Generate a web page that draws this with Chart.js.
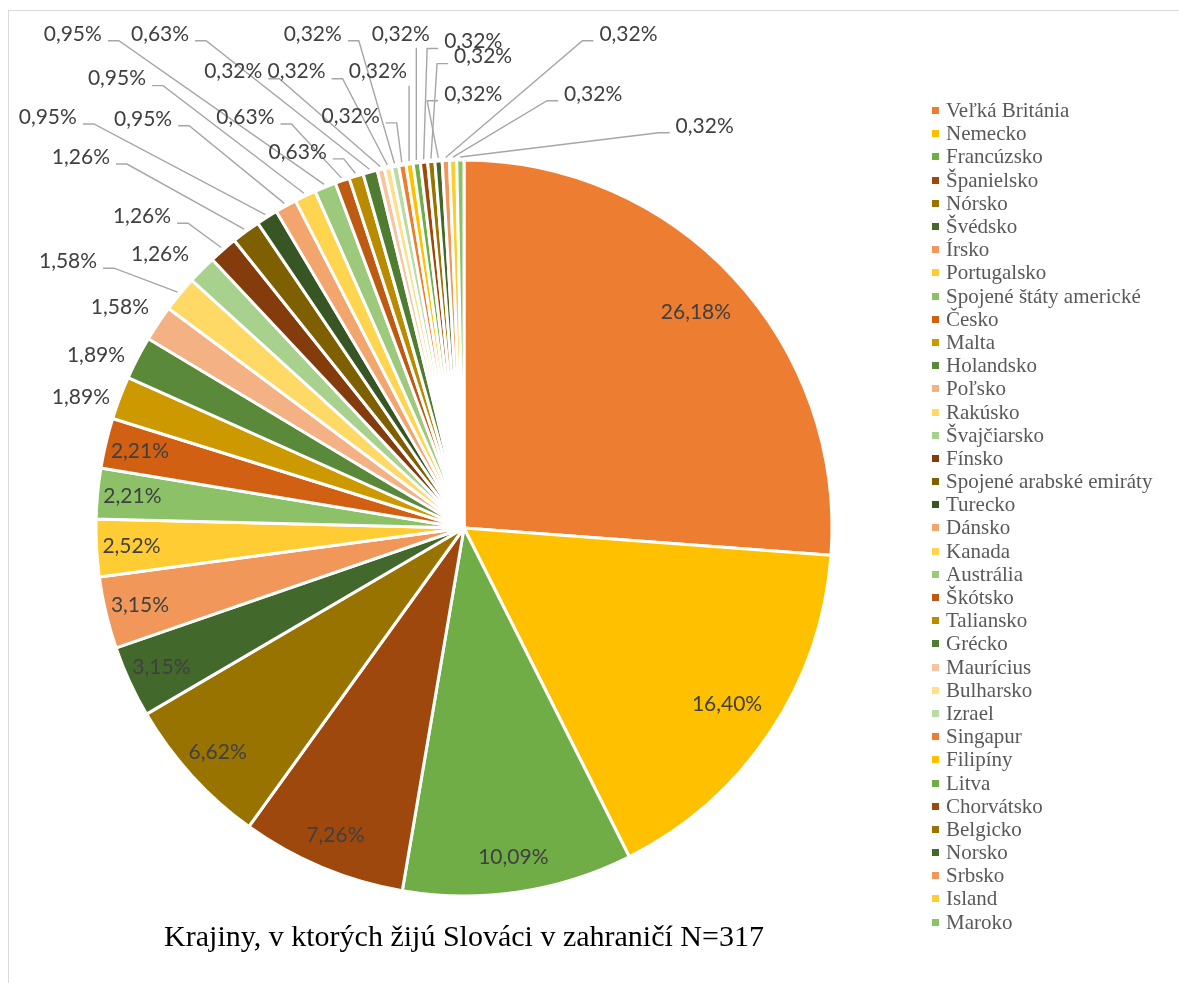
<!DOCTYPE html>
<html>
<head>
<meta charset="utf-8">
<title>Krajiny, v ktorých žijú Slováci v zahraničí</title>
<script src="https://cdn.jsdelivr.net/npm/chart.js@4.4.1/dist/chart.umd.min.js"></script>
<style>
    html, body { margin: 0; padding: 0; background: #fff; }
    body { width: 1179px; height: 983px; position: relative; overflow: hidden; }
    #frame { position: absolute; left: 8px; top: 10px; width: 1200px; height: 1000px; border: 1px solid #d9d9d9; }
    #chart { position: absolute; left: 0; top: 0; }
    #legend {
        position: absolute; left: 930px; top: 99px; margin: 0; padding: 0; list-style: none;
        font-family: 'Liberation Serif', 'Times New Roman', serif; font-size: 21px; color: #595959;
    }
    #legend li { height: 23.2px; display: flex; align-items: center; white-space: nowrap; }
    #legend .box { width: 7px; height: 7px; margin: 0 7px 0 2px; flex: none; }
</style>
</head>
<body>
<div id="frame"></div>
<canvas id="chart" width="1179" height="983"></canvas>
<ul id="legend"></ul>
<script>
const countries = [
    'Veľká Británia', 'Nemecko', 'Francúzsko', 'Španielsko', 'Nórsko', 'Švédsko',
    'Írsko', 'Portugalsko', 'Spojené štáty americké', 'Česko', 'Malta', 'Holandsko',
    'Poľsko', 'Rakúsko', 'Švajčiarsko', 'Fínsko', 'Spojené arabské emiráty', 'Turecko',
    'Dánsko', 'Kanada', 'Austrália', 'Škótsko', 'Taliansko', 'Grécko',
    'Maurícius', 'Bulharsko', 'Izrael', 'Singapur', 'Filipíny', 'Litva',
    'Chorvátsko', 'Belgicko', 'Norsko', 'Srbsko', 'Island', 'Maroko'
];
// pocet respondentov (N=317)
const counts = [
    83, 52, 32, 23, 21, 10,
    10, 8, 7, 7, 6, 6,
    5, 5, 4, 4, 4, 3,
    3, 3, 3, 2, 2, 2,
    1, 1, 1, 1, 1, 1,
    1, 1, 1, 1, 1, 1
];
const total = 317;
const colors = [
    '#ED7D31', '#FFC000', '#70AD47', '#9E480E', '#997300', '#43682B',
    '#F1975A', '#FFCD33', '#8CC168', '#D26012', '#CC9A00', '#5A8A39',
    '#F4B183', '#FFD966', '#A9D18E', '#843C0C', '#7F6000', '#375623',
    '#F3A56E', '#FFD54F', '#9DC97C', '#BE5A12', '#B88B00', '#507C32',
    '#F7C3A0', '#FFE08A', '#B9DCA4', '#ED7D31', '#FFC000', '#70AD47',
    '#9E480E', '#997300', '#43682B', '#F1975A', '#FFCD33', '#8CC168'
];

const percentText = counts.map(c => (c / total * 100).toFixed(2).replace('.', ',') + '%');

// labels of the first slices sit inside the pie, the rest outside with leader lines
const insideCount = 10;
// outside label spots, relative to the pie centre in units of the radius
const labelSpots = [
    [-1.041, -0.354], [-1.000, -0.469], [-0.935, -0.599], [-1.076, -0.725],
    [-0.826, -0.744], [-0.875, -0.847], [-1.041, -1.008], [-1.131, -1.117],
    [-0.872, -1.112], [-0.943, -1.221], [-1.063, -1.343], [-0.594, -1.117],
    [-0.452, -1.022], [-0.826, -1.343], [-0.627, -1.240], [-0.455, -1.240],
    [-0.411, -1.343], [-0.308, -1.120], [-0.234, -1.240], [-0.172, -1.343],
    [0.025, -1.322], [0.052, -1.281], [0.025, -1.180], [0.447, -1.343],
    [0.351, -1.180], [0.654, -1.093]
];

const sliceLabels = {
    id: 'sliceLabels',
    afterDatasetsDraw(chart) {
        const ctx = chart.ctx;
        const arcs = chart.getDatasetMeta(0).data;
        ctx.save();
        ctx.font = '21px Lato';
        ctx.textAlign = 'center';
        ctx.textBaseline = 'middle';
        arcs.forEach((arc, i) => {
            const p = arc.getProps(['x', 'y', 'startAngle', 'endAngle', 'outerRadius'], true);
            const mid = (p.startAngle + p.endAngle) / 2;
            const text = percentText[i];
            ctx.fillStyle = '#404040';
            if (i < insideCount) {
                // wide slices keep the label a bit further from the rim
                const r = p.outerRadius * (p.endAngle - p.startAngle > 0.7 ? 0.86 : 0.905);
                ctx.fillText(text, p.x + Math.cos(mid) * r, p.y + Math.sin(mid) * r);
                return;
            }
            const spot = labelSpots[i - insideCount];
            const R = p.outerRadius;
            const lx = p.x + spot[0] * R;
            const ly = p.y + spot[1] * R;
            const ex = p.x + Math.cos(mid) * (R + 3);
            const ey = p.y + Math.sin(mid) * (R + 3);
            const w = ctx.measureText(text).width;
            const left = lx - w / 2, right = lx + w / 2, top = ly - 8, bottom = ly + 8;
            const dx = Math.max(left - ex, 0, ex - right);
            const dy = Math.max(top - ey, 0, ey - bottom);
            if (Math.hypot(dx, dy) > 22) {
                ctx.beginPath();
                ctx.strokeStyle = '#A6A6A6';
                ctx.lineWidth = 1.4;
                if (ex > right + 4) {
                    ctx.moveTo(right + 6, ly + 7);
                    ctx.lineTo(right + 17, ly + 7);
                    ctx.lineTo(ex, ey);
                } else if (ex < left - 4) {
                    ctx.moveTo(left - 6, ly + 7);
                    ctx.lineTo(left - 17, ly + 7);
                    ctx.lineTo(ex, ey);
                } else {
                    ctx.moveTo(ex, bottom + 6);
                    ctx.lineTo(ex, ey);
                }
                ctx.stroke();
            }
            ctx.fillText(text, lx, ly);
        });
        ctx.restore();
    }
};

const chart = new Chart(document.getElementById('chart'), {
    type: 'pie',
    data: {
        labels: countries,
        datasets: [{
            data: counts,
            backgroundColor: colors,
            borderColor: '#ffffff',
            borderWidth: 3
        }]
    },
    options: {
        responsive: false,
        animation: false,
        radius: 368,
        layout: { padding: { top: 150, right: 251, bottom: 17.2, left: 0 } },
        plugins: {
            legend: { display: false },
            tooltip: { enabled: false },
            title: {
                display: true,
                position: 'bottom',
                text: 'Krajiny, v ktorých žijú Slováci v zahraničí N=317',
                color: '#000000',
                font: { family: 'Liberation Serif', size: 30, weight: 'normal' },
                padding: { top: 13.8, bottom: 10 }
            }
        }
    },
    plugins: [sliceLabels]
});

// legend next to the chart
const legend = document.getElementById('legend');
countries.forEach((name, i) => {
    const li = document.createElement('li');
    const box = document.createElement('span');
    box.className = 'box';
    box.style.background = colors[i];
    li.appendChild(box);
    li.appendChild(document.createTextNode(name));
    legend.appendChild(li);
});
</script>
</body>
</html>
